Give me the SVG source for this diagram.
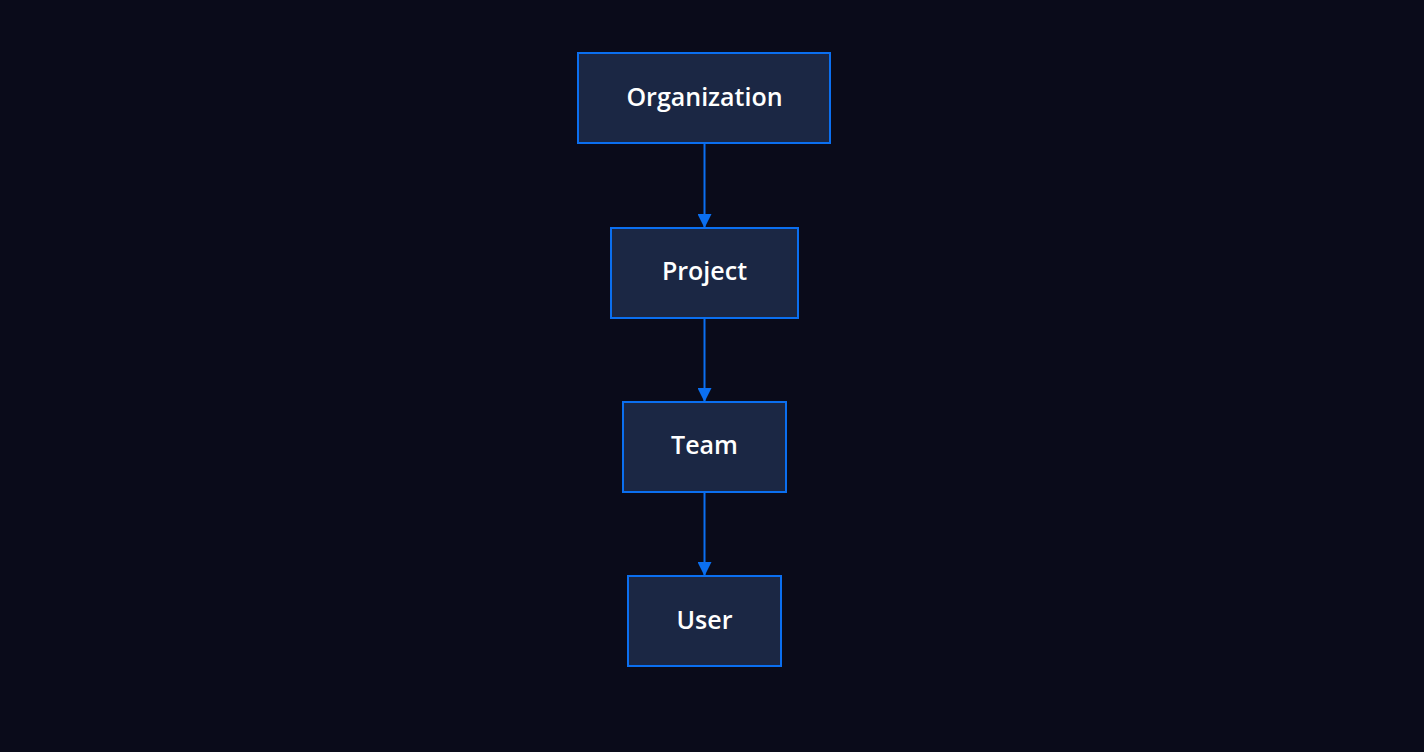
<svg xmlns="http://www.w3.org/2000/svg" width="1424" height="752" viewBox="0 0 1424 752">
<style>
.node rect{fill:#1b2744;stroke:#0b6ff0;stroke-width:2}
.node text{fill:#ffffff;font-family:"Open Sans","DejaVu Sans",sans-serif;font-size:25px;font-weight:600;text-anchor:middle;dominant-baseline:central}
.edge{stroke:#0b6ff0;stroke-width:2;fill:none;marker-end:url(#arr)}
</style>
<defs>
<marker id="arr" viewBox="0 0 10 10" refX="10" refY="5" markerWidth="7" markerHeight="7" markerUnits="strokeWidth" orient="auto">
<path d="M0,0 L10,5 L0,10 z" fill="#0b6ff0"/>
</marker>
</defs>
<rect width="1424" height="752" fill="#0a0b1a"/>
<g id="connectors">
<line class="edge" x1="704.5" y1="144" x2="704.5" y2="228"/>
<line class="edge" x1="704.5" y1="318" x2="704.5" y2="402"/>
<line class="edge" x1="704.5" y1="492" x2="704.5" y2="576"/>
</g>
<g id="organization" class="node"><rect x="578" y="53" width="252" height="90"/><text x="704.5" y="96">Organization</text></g>
<g id="project" class="node"><rect x="611" y="228" width="187" height="90"/><text x="704.5" y="270">Project</text></g>
<g id="team" class="node"><rect x="623" y="402" width="163" height="90"/><text x="704.5" y="444">Team</text></g>
<g id="user" class="node"><rect x="628" y="576" width="153" height="90"/><text x="704.5" y="619">User</text></g>
</svg>
